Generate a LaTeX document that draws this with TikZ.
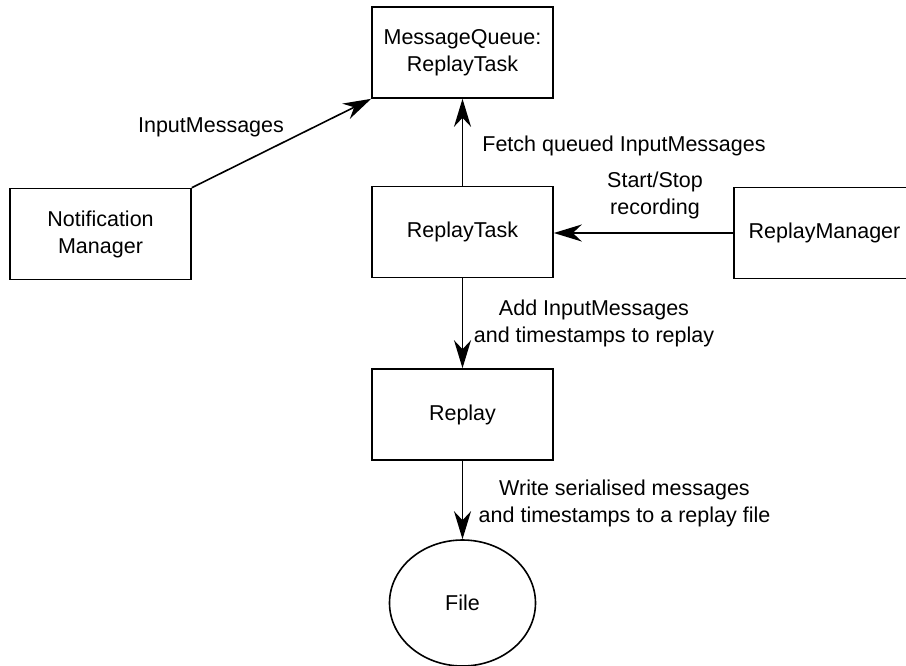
\documentclass[tikz,border=0pt]{standalone}
\usepackage{fontspec}
\setmainfont{Liberation Sans}
\usetikzlibrary{arrows.meta,shapes.geometric}

\tikzset{
  block/.style={draw, line width=1.6pt, minimum width=181pt, minimum height=91pt,
                inner sep=0pt, align=center, font=\fontsize{21.5}{27}\selectfont},
  store/.style={draw, ellipse, line width=1.6pt, minimum width=146pt, minimum height=126pt,
                inner sep=0pt, font=\fontsize{21.5}{27}\selectfont},
  note/.style={align=center, inner sep=0pt, font=\fontsize{21.5}{27}\selectfont},
  flow/.style={line width=1.6pt,
               -{Stealth[length=28pt, width=17pt, inset=9pt]}}
}

\begin{document}
\begin{tikzpicture}[x=1pt, y=-1pt]
  \useasboundingbox (0,0) rectangle (906,665);
  \clip (0,0) rectangle (906,665);

  % components
  \node[block] (mq) at (462.5, 52.5) {MessageQueue:\\ReplayTask};
  \node[block] (nm) at (100.5, 234) {Notification\\Manager};
  \node[block] (rt) at (462.5, 232) {ReplayTask};
  \node[block] (rm) at (824.5, 233) {ReplayManager};
  \node[block] (rp) at (462.5, 414.5) {Replay};
  \node[store] (file) at (462.5, 603) {File};

  % connectors
  \draw[flow] (nm.north east) -- (mq.south west);
  \draw[flow] (rt.north) -- (mq.south);
  \draw[flow] (rm.west) -- (rm.west -| rt.east);
  \draw[flow] (rt.south) -- (rp.north);
  \draw[flow] (rp.south) -- (file.north);

  % connector labels
  \node[note] (l1) at (211, 127) {InputMessages};
  \node[note] (l2) at (624, 146) {Fetch queued InputMessages};
  \node[note] (l3) at (655, 195) {Start/Stop\\recording};
  \node[note] (l4) at (594, 323) {Add InputMessages\\and timestamps to replay};
  \node[note] (l5) at (624.5, 503.5) {Write serialised messages\\and timestamps to a replay file};
\end{tikzpicture}
\end{document}
